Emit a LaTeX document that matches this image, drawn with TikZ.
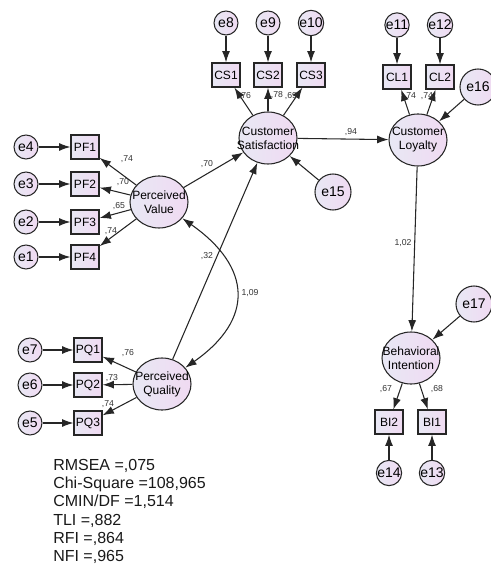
\documentclass[tikz,border=0pt]{standalone}
\usepackage{fontspec}
\setmainfont{Liberation Sans}
\usepackage{tikz}
\usetikzlibrary{arrows.meta,calc,positioning,shapes}

\definecolor{lavA}{RGB}{232,232,244}
\definecolor{lavB}{RGB}{240,218,242}
\newcommand{\twolines}[2]{\makebox[0pt]{#1}\\\makebox[0pt]{#2}}

\begin{document}
\begin{tikzpicture}[x=0.75pt,y=0.75pt,
        latent/.style={ellipse,draw=black!85,line width=0.8pt,left color=lavA,right color=lavB,
            minimum width=43.5pt,minimum height=39pt,inner sep=0pt,align=center,
            font=\fontsize{9}{10.5}\selectfont},
        obs/.style={rectangle,draw=black!85,line width=0.9pt,left color=lavA,right color=lavB,
            minimum width=21pt,minimum height=18pt,inner sep=0pt,font=\fontsize{9}{10}\selectfont},
        err/.style={circle,draw=black!85,line width=0.8pt,left color=lavA,right color=lavB,
            minimum size=18pt,inner sep=0pt,font=\fontsize{10.5}{12}\selectfont},
        bigerr/.style={err,minimum size=27pt},
        coef/.style={inner sep=0pt,font=\fontsize{6.5}{7}\selectfont,text=black!80},
        path/.style={->,>={Latex[length=8.5pt,width=6pt]},line width=0.8pt,draw=black!85}]

        \useasboundingbox (0,0) rectangle (490,-566);

        % latent variables
        \node[latent] (CSat) at (268,-138) {\twolines{Customer}{Satisfaction}};
        \node[latent] (CLoy) at (418,-140) {\twolines{Customer}{Loyalty}};
        \node[latent] (PVal) at (159,-202) {\twolines{Perceived}{Value}};
        \node[latent] (PQual) at (162,-384) {\twolines{Perceived}{Quality}};
        \node[latent] (BInt) at (411,-358) {\twolines{Behavioral}{Intention}};

        % indicators
        \node[obs] (CS1) at (226,-75) {CS1};
        \node[obs] (CS2) at (268,-75) {CS2};
        \node[obs] (CS3) at (311,-75) {CS3};
        \node[obs] (CL1) at (397,-77) {CL1};
        \node[obs] (CL2) at (440,-77) {CL2};
        \node[obs] (PF1) at (85,-147) {PF1};
        \node[obs] (PF2) at (85,-184) {PF2};
        \node[obs] (PF3) at (85,-222) {PF3};
        \node[obs] (PF4) at (85,-257) {PF4};
        \node[obs] (PQ1) at (88,-350) {PQ1};
        \node[obs] (PQ2) at (88,-385) {PQ2};
        \node[obs] (PQ3) at (88,-423) {PQ3};
        \node[obs] (BI2) at (389,-422) {BI2};
        \node[obs] (BI1) at (432,-422) {BI1};

        % errors
        \node[err] (e8) at (226,-23) {e8};
        \node[err] (e9) at (268,-23) {e9};
        \node[err] (e10) at (311,-23) {e10};
        \node[err] (e11) at (397,-25) {e11};
        \node[err] (e12) at (440,-25) {e12};
        \node[err] (e4) at (26,-147) {e4};
        \node[err] (e3) at (26,-184) {e3};
        \node[err] (e2) at (26,-222) {e2};
        \node[err] (e1) at (26,-257) {e1};
        \node[err] (e7) at (30,-350) {e7};
        \node[err] (e6) at (30,-385) {e6};
        \node[err] (e5) at (30,-423) {e5};
        \node[err] (e14) at (389,-473) {e14};
        \node[err] (e13) at (432,-473) {e13};
        \node[bigerr] (e15) at (333,-192) {e15};
        \node[bigerr] (e16) at (478,-87) {e16};
        \node[bigerr] (e17) at (474,-304) {e17};

        % error paths
        \draw[path] (e8) -- (CS1);
        \draw[path] (e9) -- (CS2);
        \draw[path] (e10) -- (CS3);
        \draw[path] (e11) -- (CL1);
        \draw[path] (e12) -- (CL2);
        \draw[path] (e4) -- (PF1);
        \draw[path] (e3) -- (PF2);
        \draw[path] (e2) -- (PF3);
        \draw[path] (e1) -- (PF4);
        \draw[path] (e7) -- (PQ1);
        \draw[path] (e6) -- (PQ2);
        \draw[path] (e5) -- (PQ3);
        \draw[path] (e14) -- (BI2);
        \draw[path] (e13) -- (BI1);
        \draw[path] (e15) -- (CSat);
        \draw[path] (e16) -- (CLoy);
        \draw[path] (e17) -- (BInt);

        % loadings
        \draw[path] (CSat) -- (CS1);
        \draw[path] (CSat) -- (CS2);
        \draw[path] (CSat) -- (CS3);
        \draw[path] (CLoy) -- (CL1);
        \draw[path] (CLoy) -- (CL2);
        \draw[path] (PVal) -- (PF1);
        \draw[path] (PVal) -- (PF2);
        \draw[path] (PVal) -- (PF3);
        \draw[path] (PVal) -- (PF4);
        \draw[path] (PQual) -- (PQ1);
        \draw[path] (PQual) -- (PQ2);
        \draw[path] (PQual) -- (PQ3);
        \draw[path] (BInt) -- (BI2);
        \draw[path] (BInt) -- (BI1);

        % structural paths
        \draw[path] (PVal) -- (CSat);
        \draw[path] (PQual) -- (CSat);
        \draw[path] (CSat) -- (CLoy);
        \draw[path] (CLoy) -- (BInt);
        \draw[path,<->] (PVal) to[out=-35,in=35,looseness=1.45] (PQual);

        % coefficients
        \node[coef] (k1) at (245,-96) {,76};
        \node[coef] (k2) at (277,-95) {,78};
        \node[coef] (k3) at (291,-96) {,69};
        \node[coef] (k4) at (410,-96) {,74};
        \node[coef] (k5) at (427,-96) {,74};
        \node[coef] (k6) at (351,-132) {,94};
        \node[coef] (k7) at (207,-164) {,70};
        \node[coef] (k8) at (127,-159) {,74};
        \node[coef] (k9) at (123,-182) {,70};
        \node[coef] (k10) at (119,-206) {,65};
        \node[coef] (k11) at (111,-231) {,74};
        \node[coef] (k12) at (207,-256) {,32};
        \node[coef] (k13) at (250,-293) {1,09};
        \node[coef] (k14) at (128,-353) {,76};
        \node[coef] (k15) at (112,-378) {,73};
        \node[coef] (k16) at (108,-404) {,74};
        \node[coef] (k17) at (403,-243) {1,02};
        \node[coef] (k18) at (386,-389) {,67};
        \node[coef] (k19) at (437,-389) {,68};

        % fit indices
        \node[anchor=north west,align=left,inner sep=0pt,font=\fontsize{12}{13.7}\selectfont,text=black!90] (fit) at (53,-459)
            {RMSEA =,075\\Chi-Square =108,965\\CMIN/DF =1,514\\TLI =,882\\RFI =,864\\NFI =,965};
    \end{tikzpicture}
\end{document}
